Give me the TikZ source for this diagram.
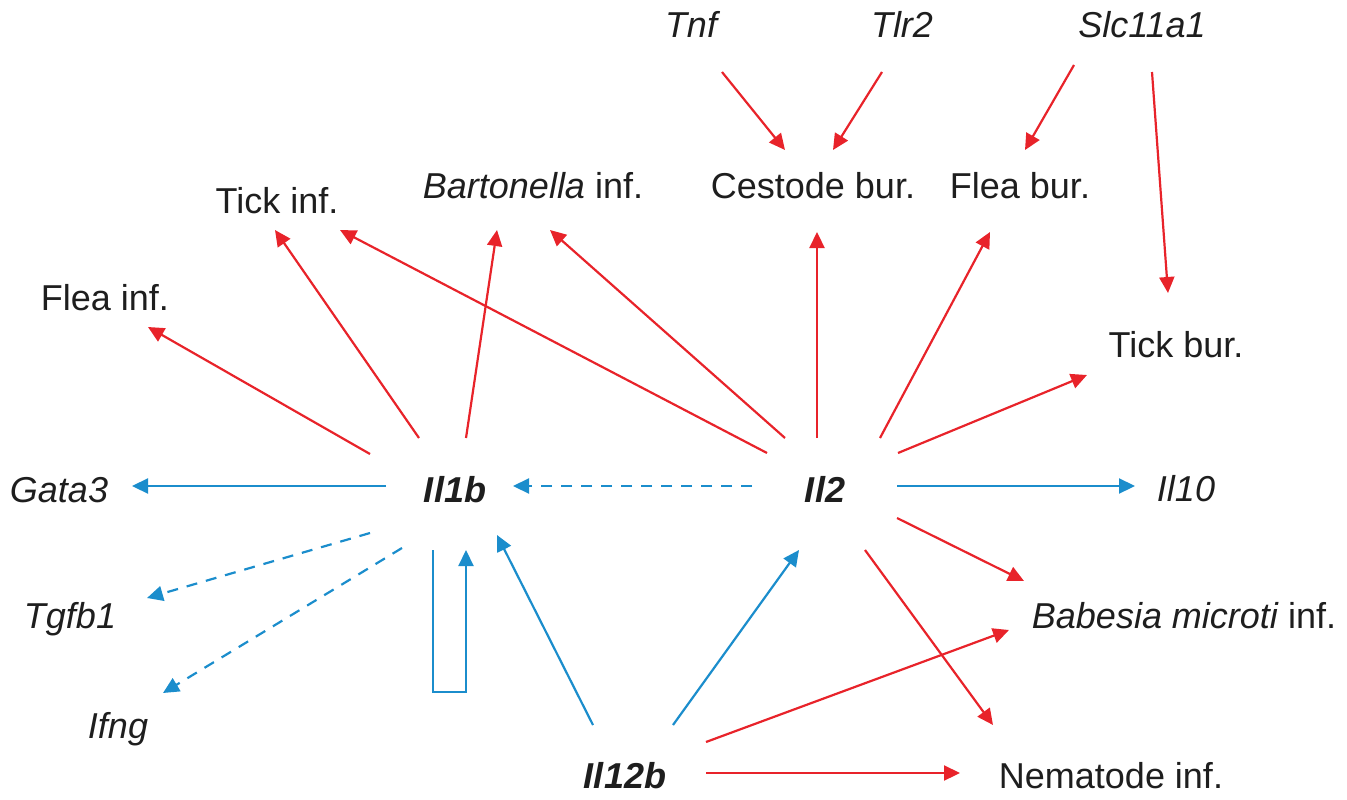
\documentclass[tikz,border=0pt]{standalone}
\usepackage{fontspec}
\setmainfont{Liberation Sans}
\usetikzlibrary{arrows.meta}
\definecolor{ared}{RGB}{232,35,42}
\definecolor{ablue}{RGB}{27,141,204}
\definecolor{txt}{RGB}{30,30,30}
\begin{document}
\begin{tikzpicture}[x=1pt,y=-1pt,
  lbl/.style={inner sep=0pt,anchor=base,text=txt,font=\fontsize{36pt}{40pt}\selectfont},
  gene/.style={lbl,font=\fontsize{36pt}{40pt}\selectfont\itshape},
  hub/.style={lbl,font=\fontsize{36pt}{40pt}\selectfont\bfseries\itshape},
  rarr/.style={draw=ared,line width=2.2pt,-{Triangle[length=16pt,width=15pt]}},
  barr/.style={draw=ablue,line width=2.2pt,-{Triangle[length=16pt,width=15pt]}},
  dashline/.style={dash pattern=on 11pt off 9pt}]
\useasboundingbox (0,0) rectangle (1347,800);
% nodes
\node[gene] (tnf) at (691,38) {Tnf};
\node[gene] (tlr) at (902,38) {Tlr2};
\node[gene] (slc) at (1142,38) {Slc11a1};
\node[lbl] (tickinf) at (277,213) {Tick inf.};
\node[lbl] (bart) at (533,198) {{\itshape Bartonella} inf.};
\node[lbl] (cest) at (813,198) {Cestode bur.};
\node[lbl] (fleabur) at (1020,198) {Flea bur.};
\node[lbl] (fleainf) at (105,310) {Flea inf.};
\node[lbl] (tickbur) at (1176,357) {Tick bur.};
\node[gene] (gata) at (59,502) {Gata3};
\node[hub] (ilb) at (455,502) {Il1b};
\node[hub] (iltwo) at (825,502) {Il2};
\node[gene] (ilten) at (1186,501) {Il10};
\node[gene] (tgf) at (70,628) {Tgfb1};
\node[lbl] (bab) at (1184,628) {{\itshape Babesia microti} inf.};
\node[gene] (ifng) at (118,738) {Ifng};
\node[hub] (iltw) at (625,788) {Il12b};
\node[lbl] (nem) at (1111,788) {Nematode inf.};
% red connectors
\draw[rarr] ([shift={(31,34)}]tnf.base) -- ([shift={(-28,-48)}]cest.base);
\draw[rarr] ([shift={(-20,34)}]tlr.base) -- ([shift={(20,-48)}]cest.base);
\draw[rarr] ([shift={(-68,27)}]slc.base) -- ([shift={(5,-48)}]fleabur.base);
\draw[rarr] ([shift={(10,34)}]slc.base) -- ([shift={(-8,-64)}]tickbur.base);
\draw[rarr] ([shift={(-8,-64)}]iltwo.base) -- ([shift={(4,34)}]cest.base);
\draw[rarr] ([shift={(55,-64)}]iltwo.base) -- ([shift={(-30,34)}]fleabur.base);
\draw[rarr] ([shift={(73,-49)}]iltwo.base) -- ([shift={(-89,18)}]tickbur.base);
\draw[rarr] ([shift={(-40,-64)}]iltwo.base) -- ([shift={(17,32)}]bart.base);
\draw[rarr] ([shift={(-58,-49)}]iltwo.base) -- ([shift={(63,17)}]tickinf.base);
\draw[rarr] ([shift={(-36,-64)}]ilb.base) -- ([shift={(-2,17)}]tickinf.base);
\draw[rarr] ([shift={(11,-64)}]ilb.base) -- ([shift={(-36,32)}]bart.base);
\draw[rarr] ([shift={(-85,-48)}]ilb.base) -- ([shift={(43,17)}]fleainf.base);
\draw[rarr] ([shift={(72,16)}]iltwo.base) -- ([shift={(-160,-47)}]bab.base);
\draw[rarr] ([shift={(40,48)}]iltwo.base) -- ([shift={(-118,-63)}]nem.base);
\draw[rarr] ([shift={(81,-46)}]iltw.base) -- ([shift={(-175,2)}]bab.base);
\draw[rarr] ([shift={(81,-15)}]iltw.base) -- ([shift={(-151,-15)}]nem.base);
% blue connectors
\draw[barr] ([shift={(-69,-16)}]ilb.base) -- ([shift={(73,-16)}]gata.base);
\draw[barr,dashline] ([shift={(-73,-16)}]iltwo.base) -- ([shift={(58,-16)}]ilb.base);
\draw[barr] ([shift={(72,-16)}]iltwo.base) -- ([shift={(-51,-15)}]ilten.base);
\draw[barr,dashline] ([shift={(-85,31)}]ilb.base) -- ([shift={(77,-30)}]tgf.base);
\draw[barr,dashline] ([shift={(-53,46)}]ilb.base) -- ([shift={(45,-45)}]ifng.base);
\draw[barr,line join=miter] ([shift={(-22,48)}]ilb.base) -- ++(0,142) -- ++(33,0) -- ([shift={(11,48)}]ilb.base);
\draw[barr] ([shift={(-32,-63)}]iltw.base) -- ([shift={(42,33)}]ilb.base);
\draw[barr] ([shift={(48,-63)}]iltw.base) -- ([shift={(-26,48)}]iltwo.base);
\end{tikzpicture}
\end{document}
